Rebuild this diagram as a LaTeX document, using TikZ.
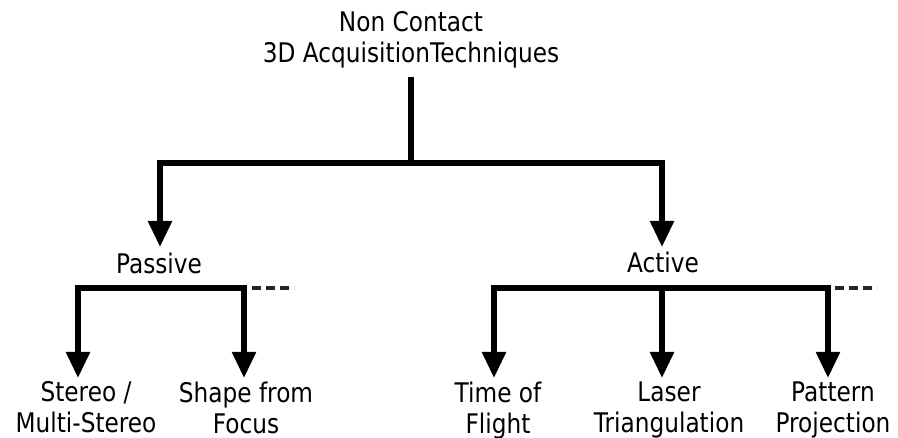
\documentclass[tikz,border=0pt]{standalone}
\usepackage{fontspec}
\setmainfont[FakeStretch=0.86]{DejaVu Sans}
\usetikzlibrary{arrows.meta}
\begin{document}
\begin{tikzpicture}[x=1pt,y=-1pt,
  lbl/.style={inner sep=0pt,outer sep=0pt,align=center,anchor=north,font=\fontsize{27}{31}\selectfont},
  conn/.style={line width=5.5pt,line join=miter,line cap=butt},
  tip/.style={conn,-{Triangle[width=23pt,length=26pt]}},
  tips/.style={conn,{Triangle[width=23pt,length=26pt]}-{Triangle[width=23pt,length=26pt]}},
  more/.style={line width=4.5pt,black!85,dash pattern=on 9pt off 5pt}]
\useasboundingbox (0,0) rectangle (898,438);
\node[lbl] (root) at (411,11.5) {Non Contact\\3D AcquisitionTechniques};
\node[lbl] (passive) at (159,252.5) {Passive};
\node[lbl] (active) at (663,251.5) {Active};
\node[lbl] (stereo) at (86,381.5) {Stereo /\\Multi-Stereo};
\node[lbl] (focus) at (246,381.5) {Shape from\\Focus};
\node[lbl] (tof) at (498,381.5) {Time of\\Flight};
\node[lbl] (laser) at (669,381.5) {Laser\\Triangulation};
\node[lbl] (pattern) at (833,381.5) {Pattern\\Projection};
\coordinate (j0) at (411,163);
\coordinate (pbar) at (160,288);
\coordinate (abar) at (662,288);
\coordinate (ts) at (78,378);
\coordinate (tf) at (244,378);
\coordinate (tt) at (494,378);
\coordinate (tl) at (662,378);
\coordinate (tp) at (828,378);
\coordinate (pd1) at (252,288);
\coordinate (pd2) at (294,288);
\coordinate (ad1) at (835,288);
\coordinate (ad2) at (877,288);
\draw[conn,shorten <=9pt] (root.south) -- (j0);
\draw[tips,shorten <=5.5pt,shorten >=4.5pt] (passive.north -| 160,0) |- (j0) -| (active.north -| 662,0);
\draw[tips] (ts) |- (pbar) -| (tf);
\draw[tips] (tt) |- (abar) -| (tp);
\draw[tip] (abar) -- (tl);
\draw[more] (pd1) -- (pd2);
\draw[more] (ad1) -- (ad2);
\end{tikzpicture}
\end{document}
